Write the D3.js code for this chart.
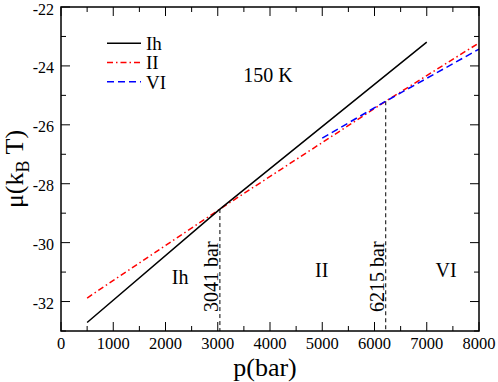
<!DOCTYPE html>
<html>
<head>
<meta charset="utf-8">
<script src="https://cdn.jsdelivr.net/npm/d3@7"></script>
<style>
  html, body { margin: 0; padding: 0; background: #fff; }
  svg { display: block; }
  svg text { font-family: "Liberation Serif", "Times New Roman", "DejaVu Serif", serif; }
</style>
</head>
<body>
<div id="chart"></div>
<script>
// chemical potential (kT) vs pressure (bar), 150 K
const ihPoints = [[500, -32.71], [3041, -28.86], [7000, -23.19]];
const iiPoints = [[500, -31.88], [3041, -28.86], [6215, -25.2], [8000, -23.22]];
const viPoints = [[5000, -26.45], [6215, -25.2], [8000, -23.43]];
const transitions = [[3041, -28.86, "3041 bar"], [6215, -25.2, "6215 bar"]];
const phaseLabels = [["Ih", 2280, -31.4], ["II", 4990, -31.15], ["VI", 7370, -31.15]];
const xTicks = [0, 1000, 2000, 3000, 4000, 5000, 6000, 7000, 8000];
const yTicks = [-32, -30, -28, -26, -24, -22];

const width = 498, height = 382;
const margin = {top: 7, right: 19, bottom: 51, left: 61};

const svg = d3.select("#chart").append("svg")
    .attr("width", width)
    .attr("height", height)
    .attr("font-family", "Liberation Serif, Times New Roman, serif");

const x = d3.scaleLinear().domain([0, 8000]).range([margin.left, width - margin.right]);
const y = d3.scaleLinear().domain([-33, -22]).range([height - margin.bottom, margin.top]);

const line = d3.line().x(d => x(d[0])).y(d => y(d[1]));

// ticks, pointing inward on all sides
const minorX = d3.range(500, 8000, 1000);
const minorY = d3.range(-33, -22, 2);
const tickG = svg.append("g").attr("stroke", "#000").attr("stroke-width", 1);
xTicks.concat(minorX).forEach(v => {
    const len = v % 1000 === 0 ? 9 : 5;
    tickG.append("line").attr("x1", x(v)).attr("x2", x(v))
        .attr("y1", y(-33)).attr("y2", y(-33) - len);
    tickG.append("line").attr("x1", x(v)).attr("x2", x(v))
        .attr("y1", y(-22)).attr("y2", y(-22) + len);
});
yTicks.concat(minorY).forEach(v => {
    const len = v % 2 === 0 ? 9 : 5;
    tickG.append("line").attr("y1", y(v)).attr("y2", y(v))
        .attr("x1", x(0)).attr("x2", x(0) + len);
    tickG.append("line").attr("y1", y(v)).attr("y2", y(v))
        .attr("x1", x(8000)).attr("x2", x(8000) - len);
});

// tick labels
svg.append("g").selectAll("text").data(xTicks).join("text")
    .attr("x", d => x(d))
    .attr("y", y(-33) + 17.8)
    .attr("text-anchor", "middle")
    .attr("font-size", 16.5)
    .text(d => d);
svg.append("g").selectAll("text").data(yTicks).join("text")
    .attr("x", x(0) - 7)
    .attr("y", d => y(d) + 7.5)
    .attr("text-anchor", "end")
    .attr("font-size", 16)
    .text(d => d);

// transition markers
transitions.forEach(t => {
    svg.append("line")
        .attr("x1", x(t[0])).attr("x2", x(t[0]))
        .attr("y1", y(t[1])).attr("y2", y(-33))
        .attr("stroke", "#000").attr("stroke-width", 1)
        .attr("stroke-dasharray", "4,3");
    svg.append("text")
        .attr("transform", `translate(${x(t[0]) - 2},${y(-33) - 19}) rotate(-90)`)
        .attr("font-size", 20)
        .text(t[2]);
});

// curves
svg.append("path").datum(iiPoints).attr("d", line)
    .attr("fill", "none").attr("stroke", "#ff0000").attr("stroke-width", 1.5)
    .attr("stroke-dasharray", "6,3,1.5,3");
svg.append("path").datum(viPoints).attr("d", line)
    .attr("fill", "none").attr("stroke", "#0000ff").attr("stroke-width", 1.5)
    .attr("stroke-dasharray", "7,4");
svg.append("path").datum(ihPoints).attr("d", line)
    .attr("fill", "none").attr("stroke", "#000").attr("stroke-width", 1.5);

// frame
svg.append("rect")
    .attr("x", x(0)).attr("y", y(-22))
    .attr("width", x(8000) - x(0)).attr("height", y(-33) - y(-22))
    .attr("fill", "none").attr("stroke", "#000").attr("stroke-width", 1.5);

// phase labels
svg.append("g").selectAll("text").data(phaseLabels).join("text")
    .attr("x", d => x(d[1]))
    .attr("y", d => y(d[2]))
    .attr("text-anchor", "middle")
    .attr("font-size", 20)
    .text(d => d[0]);

svg.append("text")
    .attr("x", 268).attr("y", 82)
    .attr("text-anchor", "middle")
    .attr("font-size", 20)
    .text("150 K");

// legend
const legend = [["Ih", "#000", null], ["II", "#ff0000", "6,3,1.5,3"], ["VI", "#0000ff", "7,4"]];
legend.forEach((d, i) => {
    const ly = 43.3 + i * 19.2;
    svg.append("line")
        .attr("x1", 107).attr("x2", 141).attr("y1", ly).attr("y2", ly)
        .attr("stroke", d[1]).attr("stroke-width", 1.5)
        .attr("stroke-dasharray", d[2]);
    svg.append("text")
        .attr("x", 146).attr("y", ly + 6.8)
        .attr("font-size", 19)
        .text(d[0]);
});

// axis titles
svg.append("text")
    .attr("x", 265).attr("y", 376)
    .attr("text-anchor", "middle")
    .attr("font-size", 26)
    .text("p(bar)");

const yl = svg.append("text")
    .attr("transform", `translate(23,${(y(-22) + y(-33)) / 2}) rotate(-90)`)
    .attr("text-anchor", "middle")
    .attr("font-size", 26);
yl.append("tspan").text("μ(k");
yl.append("tspan").attr("font-size", 18).attr("dy", 6).text("B");
yl.append("tspan").attr("dy", -6).text(" T)");
</script>
</body>
</html>
